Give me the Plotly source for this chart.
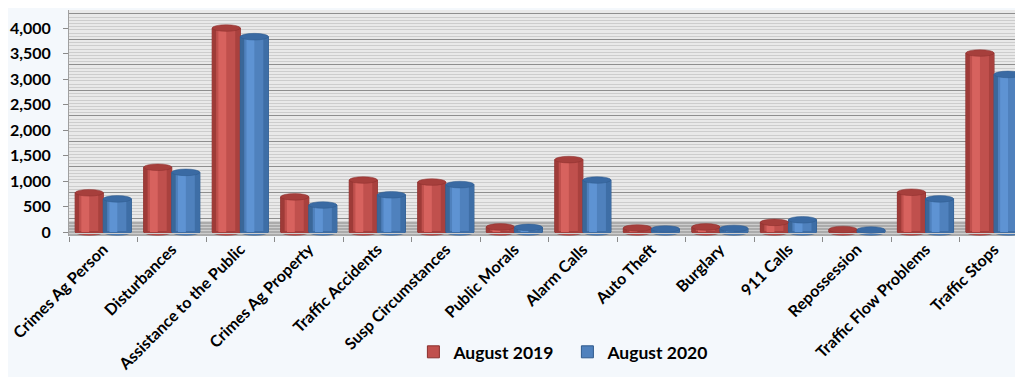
import plotly.graph_objects as go

categories = ["Crimes Ag Person", "Disturbances", "Assistance to the Public", "Crimes Ag Property",
              "Traffic Accidents", "Susp Circumstances", "Public Morals", "Alarm Calls",
              "Auto Theft", "Burglary", "911 Calls", "Repossession", "Traffic Flow Problems",
              "Traffic Stops"]
aug2019 = [770, 1270, 4000, 690, 1020, 980, 100, 1420, 80, 100, 190, 50, 780, 3510]
aug2020 = [650, 1170, 3830, 530, 730, 930, 90, 1020, 60, 70, 240, 40, 650, 3090]
series_names = ["August 2019", "August 2020"]

W = 0.41          # bar width in category units
E = 65            # half height of top ellipse, in value units
styles = [
    dict(base="#c0504d", edge="#8a2f2d", left="#9e3b38", hi="#d7625e", right="#a9413e", top="#a63f3c"),
    dict(base="#4f81bd", edge="#2e5a8c", left="#3a6799", hi="#5e93d3", right="#3e6ea6", top="#3a6aa3"),
]
FONT = "Lato"

fig = go.Figure()
shapes = []
xs = list(range(len(categories)))
for k, (name, vals, st) in enumerate(zip(series_names, [aug2019, aug2020], styles)):
    left = -W if k == 0 else 0.0
    fig.add_trace(go.Bar(x=categories, y=vals, name=name, width=W, offset=left,
                         marker=dict(color=st["base"], line=dict(color=st["edge"], width=1)),
                         showlegend=True))
    for frac0, frac1, col in [(0.0, 0.14, st["left"]), (0.22, 0.5, st["hi"]), (0.82, 1.0, st["right"])]:
        fig.add_trace(go.Bar(x=categories, y=vals, width=W * (frac1 - frac0), offset=left + W * frac0,
                             marker=dict(color=col, line=dict(width=0)), showlegend=False,
                             hoverinfo="skip"))
    for i, v in zip(xs, vals):
        shapes.append(dict(type="circle", xref="x", yref="y", layer="below",
                           x0=i + left, x1=i + left + W, y0=-E, y1=E,
                           fillcolor=st["base"], line=dict(color=st["edge"], width=0.5)))
        shapes.append(dict(type="circle", xref="x", yref="y", layer="above",
                           x0=i + left, x1=i + left + W, y0=v - E, y1=v + E,
                           fillcolor=st["top"], line=dict(color=st["edge"], width=0.5)))

floor = dict(type="rect", xref="paper", yref="y", layer="below", x0=0, x1=1, y0=-78, y1=196,
             fillcolor="#ababab", line=dict(width=0))
fig.update_layout(shapes=[floor] + shapes)

fig.add_trace(go.Scatter(x=[categories[0]], y=[None], yaxis="y2", showlegend=False, hoverinfo="skip"))

fig.update_layout(
    width=1023, height=377,
    margin=dict(l=61, r=0, t=2, b=149, autoexpand=False),
    paper_bgcolor="#f4f8fc",
    plot_bgcolor="#e9e9e9",
    barmode="overlay",
    font=dict(family=FONT, color="#000000"),
    xaxis=dict(type="category", range=[-0.5, 13.54], tickson="boundaries", ticks="outside",
               ticklen=5, tickcolor="#8a8a8a", tickangle=-45, showgrid=False, showline=False,
               automargin=False,
               tickfont=dict(size=16, family=FONT, weight="bold")),
    yaxis=dict(range=[-78, 4353], tickvals=[0, 500, 1000, 1500, 2000, 2500, 3000, 3500, 4000],
               tickformat=",", ticks="outside", ticklen=5, tickcolor="#8a8a8a",
               showgrid=False, zeroline=False, showline=True, linecolor="#a0a0a0",
               ticklabelstandoff=9, automargin=False,
               tickfont=dict(size=16, family=FONT, weight="bold")),
    yaxis2=dict(overlaying="y", range=[-78 + 225, 4353 + 225], dtick=500, showticklabels=False,
                showgrid=True, gridcolor="#8e8e8e", gridwidth=1, zeroline=False, automargin=False,
                minor=dict(dtick=62.5, showgrid=True, gridcolor="#cdcdcd", gridwidth=1.3)),
    legend=dict(orientation="h", x=0.358, xanchor="left", y=-0.513, yanchor="middle",
                font=dict(size=17.5, family=FONT, weight="bold"), bgcolor="rgba(0,0,0,0)",
                itemwidth=30, entrywidth=109, entrywidthmode="pixels", traceorder="normal"),
)
fig.write_html("out.html")
